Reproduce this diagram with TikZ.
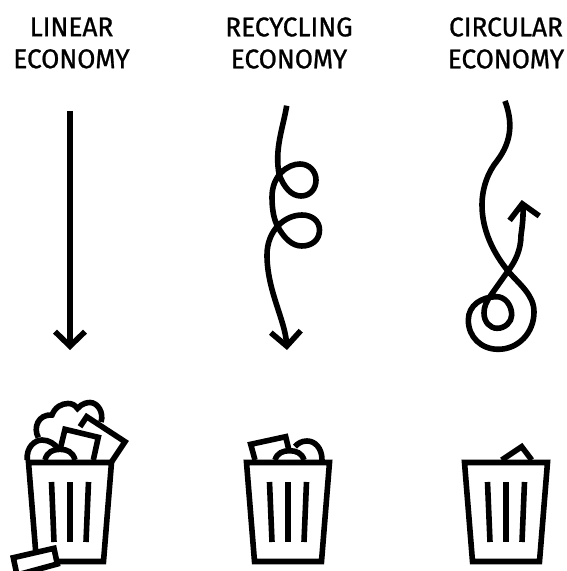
\documentclass[tikz,border=0pt]{standalone}
\usepackage{fontspec}
\setmainfont{Fira Sans}[FakeBold=0.9, FakeStretch=0.97]
\usetikzlibrary{arrows.meta}

\begin{document}
\begin{tikzpicture}[
  x=0.02cm, y=-0.02cm,
  title/.style={font=\fontsize{15.4}{18.2}\selectfont, align=center, inner sep=0pt},
  stroke/.style={line width=0.112cm},
  flow/.style={stroke, -{Straight Barb[length=0.29cm, width=0.6cm, line width=0.112cm]}}
]
  \useasboundingbox (0, 0) rectangle (566, 571);

  % Titles
  \node[title] (linear) at (71.5, 43) {LINEAR\\ECONOMY};
  \node[title] (recycling) at (289, 43) {RECYCLING\\ECONOMY};
  \node[title] (circular) at (506, 43) {CIRCULAR\\ECONOMY};

  % Arrows
  \draw[flow] (70, 111) -- (70, 350);
  \draw[flow] (286.7, 105.7) .. controls (283, 128) and (274, 150) .. (279.3, 175)
    .. controls (284, 187) and (291, 196) .. (301, 196)
    .. controls (310, 196) and (316, 189) .. (316, 180)
    .. controls (316, 171) and (309, 164) .. (300, 164)
    .. controls (288, 164) and (272, 175) .. (272, 197)
    .. controls (272, 210) and (274, 220) .. (278, 227)
    .. controls (284, 238) and (292, 246) .. (301.7, 246)
    .. controls (312, 246) and (319.5, 240) .. (319.5, 230)
    .. controls (319.5, 221) and (312, 215) .. (302, 215)
    .. controls (285, 215) and (267, 230) .. (267, 255)
    .. controls (267, 290) and (285, 320) .. (287, 350);
  \draw[flow] (505, 101) .. controls (512, 120) and (513, 140) .. (497, 161)
    .. controls (488, 172) and (482, 188) .. (482, 205)
    .. controls (482, 232) and (495, 255) .. (508, 271)
    .. controls (520, 285) and (534, 295) .. (534, 312)
    .. controls (534, 333) and (518, 349.3) .. (498.3, 349.3)
    .. controls (481, 349.3) and (468.3, 337) .. (468.3, 320)
    .. controls (468.3, 305) and (482, 296.7) .. (496.7, 296.7)
    .. controls (505, 296.7) and (511.7, 305) .. (511.7, 315)
    .. controls (511.7, 322) and (505, 328.3) .. (497.3, 328.3)
    .. controls (490, 328.3) and (484, 322) .. (484, 313)
    .. controls (484, 307) and (486, 302) .. (491, 295)
    -- (508, 271)
    .. controls (515, 262) and (521, 250) .. (521, 235)
    .. controls (523, 222) and (523.5, 212) .. (521.7, 200);

  % Contents of the bins
  \draw[stroke] (27.3, 460) .. controls (26, 447) and (35, 440) .. (42, 440) .. controls (49, 440) and (55, 444) .. (58.5, 449);
  \draw[stroke] (45, 460) .. controls (47, 452) and (53, 449.3) .. (60, 449.3) .. controls (67, 449.3) and (73, 452) .. (75, 460);
  \draw[stroke] (38.3, 437.5) .. controls (33, 428) and (38, 414) .. (52, 415)
    .. controls (55, 407) and (62, 403.5) .. (68, 403.5)
    .. controls (72, 403.5) and (75, 405) .. (77.5, 408.5)
    .. controls (82, 403) and (88, 402.5) .. (90, 402.5)
    .. controls (98, 402.5) and (104, 413) .. (101, 422);
  \draw[stroke] (80, 426.7) -- (86.7, 416.7) -- (125, 441.7) -- (111.7, 461.7);
  \draw[stroke] (60, 450) -- (65, 429.3) -- (98.3, 437.3) -- (93.3, 460);

  \draw[stroke] (255, 460) -- (250.7, 444.3) -- (285.7, 436.7) -- (289.3, 451.7);
  \draw[stroke] (295, 446.7) .. controls (298, 443) and (302, 441) .. (307, 441) .. controls (315, 441) and (322, 448) .. (322, 460);
  \draw[stroke] (275, 460) .. controls (277, 453) and (283, 450.7) .. (289.5, 450.7) .. controls (296, 450.7) and (302, 453) .. (304, 460);

  \draw[stroke] (501.7, 460) -- (521.7, 446.7) -- (531.7, 460);

  % Bins
  \foreach \binx in {70, 288, 506} {
    \draw[stroke] (\binx-41.5, 462.5) -- (\binx+41.5, 462.5) -- (\binx+33.5, 561.5) -- (\binx-33.5, 561.5) -- cycle;
    \draw[stroke] (\binx-18.5, 482) -- (\binx-16, 542);
    \draw[stroke] (\binx, 482) -- (\binx, 542);
    \draw[stroke] (\binx+18.5, 482) -- (\binx+16, 542);
  }

  % Box beside the first bin
  \draw[stroke, fill=white] (13.3, 557.7) -- (54, 548.3) -- (57.3, 564) -- (17, 575) -- cycle;
\end{tikzpicture}
\end{document}
